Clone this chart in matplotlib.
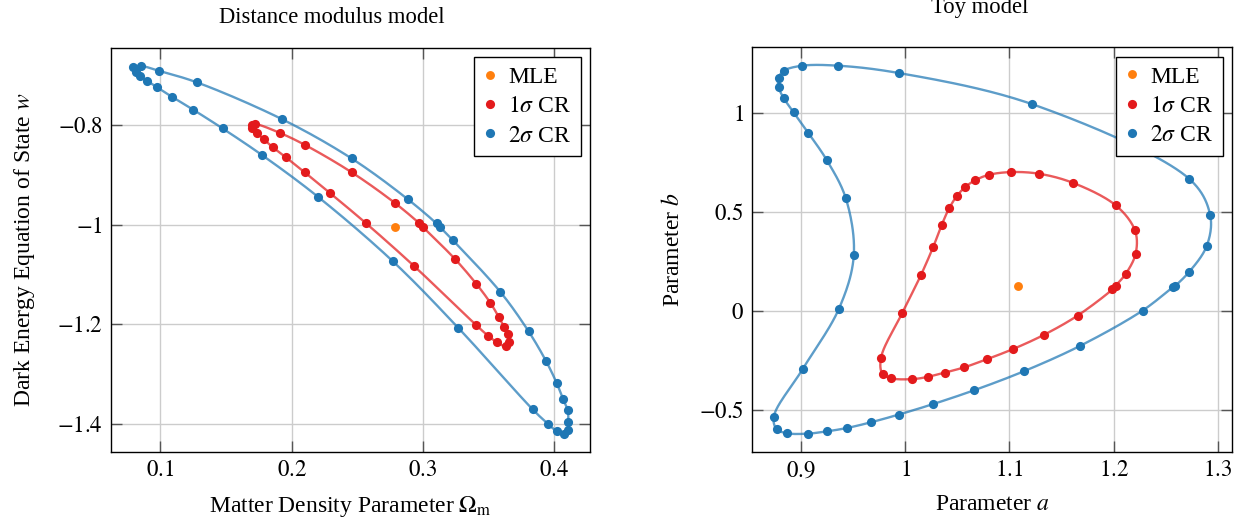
import numpy as np
import matplotlib
matplotlib.use("Agg")
import matplotlib.pyplot as plt
from matplotlib.ticker import FixedLocator, FuncFormatter

# ---------------- data: Distance modulus model ----------------
dm_mle_omega = [0.2787]
dm_mle_w = [-1.004]

dm_cr1_omega = [0.1724, 0.1910, 0.2101, 0.2458, 0.2785, 0.2968, 0.2998, 0.3240,
                0.3406, 0.3513, 0.3576, 0.3617, 0.3643, 0.3655, 0.3630, 0.3563,
                0.3497, 0.3406, 0.2935, 0.2566, 0.2296, 0.2101, 0.1958, 0.1859,
                0.1790, 0.1734, 0.1702, 0.1696]
dm_cr1_w = [-0.798, -0.8155, -0.8396, -0.8948, -0.956, -0.9962, -1.0042, -1.0677,
            -1.1187, -1.1568, -1.1849, -1.205, -1.2197, -1.2351, -1.2438, -1.2357,
            -1.2231, -1.2016, -1.0835, -0.9968, -0.9371, -0.895, -0.8649, -0.8448,
            -0.8287, -0.8155, -0.806, -0.800]

dm_cr2_omega = [0.0792, 0.0856, 0.0991, 0.1281, 0.1927, 0.2457, 0.2884, 0.3103,
                0.3128, 0.3227, 0.3586, 0.3803, 0.3937, 0.4017, 0.4065, 0.4101,
                0.4105, 0.4101, 0.4070, 0.4017, 0.3948, 0.3834, 0.3266, 0.2770,
                0.2200, 0.1776, 0.1475, 0.1253, 0.1090, 0.0979, 0.0899, 0.0844,
                0.0813]
dm_cr2_w = [-0.684, -0.6815, -0.691, -0.7143, -0.788, -0.8669, -0.9486, -0.9974,
            -1.0042, -1.0309, -1.1339, -1.2137, -1.2739, -1.3175, -1.3496, -1.3723,
            -1.3958, -1.4124, -1.4191, -1.4139, -1.399, -1.3703, -1.2062, -1.0731,
            -0.9436, -0.8602, -0.8066, -0.7693, -0.7432, -0.7243, -0.711, -0.701,
            -0.6936]

# ---------------- data: Toy model ----------------
toy_mle_a = [1.1082]
toy_mle_b = [0.1216]

toy_cr1_a = [1.1014, 1.1280, 1.1607, 1.2019, 1.2205, 1.2212, 1.2116, 1.2019,
             1.1987, 1.1655, 1.1329, 1.1036, 1.0781, 1.0567, 1.0381, 1.0221,
             1.0066, 0.9864, 0.9781, 0.9767, 0.9970, 1.0150, 1.0269, 1.0350,
             1.0420, 1.0492, 1.0576, 1.0669, 1.0800]
toy_cr1_b = [0.6994, 0.6913, 0.6457, 0.5322, 0.4055, 0.2874, 0.1845, 0.1257,
             0.1064, -0.0253, -0.1232, -0.1941, -0.2463, -0.2864, -0.3132, -0.3345,
             -0.3462, -0.3421, -0.3193, -0.2372, -0.0127, 0.1794, 0.3229, 0.4334,
             0.5155, 0.5763, 0.6244, 0.6574, 0.6853]

toy_cr2_a = [0.8833, 0.9011, 0.9354, 0.9938, 1.1217, 1.2725, 1.2928, 1.2893,
             1.2725, 1.2588, 1.2573, 1.2279, 1.1682, 1.1136, 1.0664, 1.0263,
             0.9938, 0.9671, 0.9440, 0.9251, 0.9068, 0.8866, 0.8766, 0.8737,
             0.9016, 0.9363, 0.9505, 0.9428, 0.9245, 0.9068, 0.8927, 0.8833,
             0.8782, 0.8782]
toy_cr2_b = [1.2113, 1.2367, 1.2367, 1.1997, 1.0426, 0.666, 0.4815, 0.3244,
             0.1946, 0.1237, 0.1191, 0.0, -0.1774, -0.3071, -0.4019, -0.4729,
             -0.5251, -0.5641, -0.593, -0.6097, -0.6214, -0.6199, -0.5996, -0.5352,
             -0.294, 0.0101, 0.2788, 0.5677, 0.7603, 0.8971, 1.0005, 1.0715,
             1.1303, 1.1744]

dm_xticks = [0.1, 0.2, 0.3, 0.4]
dm_yticks = [-1.4, -1.2, -1.0, -0.8]
toy_xticks = [0.9, 1.0, 1.1, 1.2, 1.3]
toy_yticks = [-0.5, 0.0, 0.5, 1.0]

legend_labels = ["MLE", r"$1\sigma$ CR", r"$2\sigma$ CR"]

# ---------------- style ----------------
C_MLE = "#ff7f0e"
C_CR1 = "#e31a1c"
C_CR2 = "#1f77b4"
FS = 17
TFS = 16.5

plt.rcParams["font.family"] = ["Liberation Serif", "DejaVu Serif"]
plt.rcParams["mathtext.fontset"] = "stix"
plt.rcParams["font.size"] = FS


def smooth_closed(x, y, n=24):
    """Centripetal Catmull-Rom closed curve through the given points (drawing only)."""
    x = np.asarray(x, float)
    y = np.asarray(y, float)
    sx = x.max() - x.min()
    sy = y.max() - y.min()
    P = np.column_stack([x / sx, y / sy])
    N = len(P)
    out = []
    for i in range(N):
        p0, p1, p2, p3 = P[(i - 1) % N], P[i], P[(i + 1) % N], P[(i + 2) % N]
        def tj(ti, a, b):
            return ti + max(np.linalg.norm(b - a), 1e-6) ** 0.5
        t0 = 0.0
        t1 = tj(t0, p0, p1)
        t2 = tj(t1, p1, p2)
        t3 = tj(t2, p2, p3)
        t = np.linspace(t1, t2, n)[:, None]
        A1 = (t1 - t) / (t1 - t0) * p0 + (t - t0) / (t1 - t0) * p1
        A2 = (t2 - t) / (t2 - t1) * p1 + (t - t1) / (t2 - t1) * p2
        A3 = (t3 - t) / (t3 - t2) * p2 + (t - t2) / (t3 - t2) * p3
        B1 = (t2 - t) / (t2 - t0) * A1 + (t - t0) / (t2 - t0) * A2
        B2 = (t3 - t) / (t3 - t1) * A2 + (t - t1) / (t3 - t1) * A3
        C = (t2 - t) / (t2 - t1) * B1 + (t - t1) / (t2 - t1) * B2
        out.append(C)
    out = np.vstack(out + [out[0][:1]])
    return out[:, 0] * sx, out[:, 1] * sy


def fmt(v, pos):
    return f"${v:g}$"


def draw_panel(ax, mle, cr1, cr2, xticks, yticks, title, xlabel, ylabel,
               title_pad, title_x, ylabelpad):
    for (px, py), c in ((cr2, C_CR2), (cr1, C_CR1)):
        sx, sy = smooth_closed(px, py)
        ax.plot(sx, sy, color=c, alpha=0.72, lw=1.7, zorder=2, solid_capstyle="round")
    ax.plot(mle[0], mle[1], "o", color=C_MLE, ms=6.4, mec="none", zorder=4, label=legend_labels[0])
    ax.plot(cr1[0], cr1[1], "o", color=C_CR1, ms=6.6, mec="none", zorder=4, label=legend_labels[1])
    ax.plot(cr2[0], cr2[1], "o", color=C_CR2, ms=6.6, mec="none", zorder=3, label=legend_labels[2])

    allx = np.concatenate([np.ravel(mle[0]), cr1[0], cr2[0]])
    ally = np.concatenate([np.ravel(mle[1]), cr1[1], cr2[1]])
    dx = 0.05 * (allx.max() - allx.min())
    dy = 0.05 * (ally.max() - ally.min())
    ax.set_xlim(allx.min() - dx, allx.max() + dx)
    ax.set_ylim(ally.min() - dy, ally.max() + dy)

    ax.xaxis.set_major_locator(FixedLocator(xticks))
    ax.yaxis.set_major_locator(FixedLocator(yticks))
    ax.xaxis.set_major_formatter(FuncFormatter(fmt))
    ax.yaxis.set_major_formatter(FuncFormatter(fmt))
    ax.tick_params(direction="in", length=8, width=1.0, color="#555555",
                   top=True, right=True, labelsize=TFS, pad=6)
    ax.grid(True, color="#cccccc", lw=1.0, zorder=0)
    ax.set_axisbelow(True)
    for s in ax.spines.values():
        s.set_linewidth(1.0)
        s.set_color("black")

    ax.set_title(title, fontsize=16.3, pad=title_pad, x=title_x)
    ax.set_xlabel(xlabel, fontsize=FS, labelpad=9)
    ax.set_ylabel(ylabel, fontsize=FS, labelpad=ylabelpad)

    leg = ax.legend(loc="upper right", frameon=True, fancybox=False, framealpha=1.0,
                    edgecolor="black", fontsize=FS, borderpad=0.4, labelspacing=0.33,
                    handlelength=0.6, handletextpad=0.45, borderaxespad=0.4,
                    markerscale=1.0)
    leg.get_frame().set_linewidth(1.0)
    leg.set_zorder(10)


fig = plt.figure(figsize=(12.44, 5.21), dpi=100)
W, H = 1244.0, 521.0
ax1 = fig.add_axes([111 / W, 1 - 452 / H, 479 / W, (452 - 47.7) / H])
ax2 = fig.add_axes([752 / W, 1 - 452 / H, 480 / W, (452 - 47.3) / H])

draw_panel(ax1, (dm_mle_omega, dm_mle_w),
           (np.array(dm_cr1_omega), np.array(dm_cr1_w)),
           (np.array(dm_cr2_omega), np.array(dm_cr2_w)),
           dm_xticks, dm_yticks, "Distance modulus model",
           r"Matter Density Parameter $\Omega_{\mathrm{m}}$",
           r"Dark Energy Equation of State $w$", 18, 0.462, 14)

draw_panel(ax2, (toy_mle_a, toy_mle_b),
           (np.array(toy_cr1_a), np.array(toy_cr1_b)),
           (np.array(toy_cr2_a), np.array(toy_cr2_b)),
           toy_xticks, toy_yticks, "Toy model",
           r"Parameter $a$", r"Parameter $b$", 25, 0.475, 11)

fig.savefig("out.png", dpi=100)
